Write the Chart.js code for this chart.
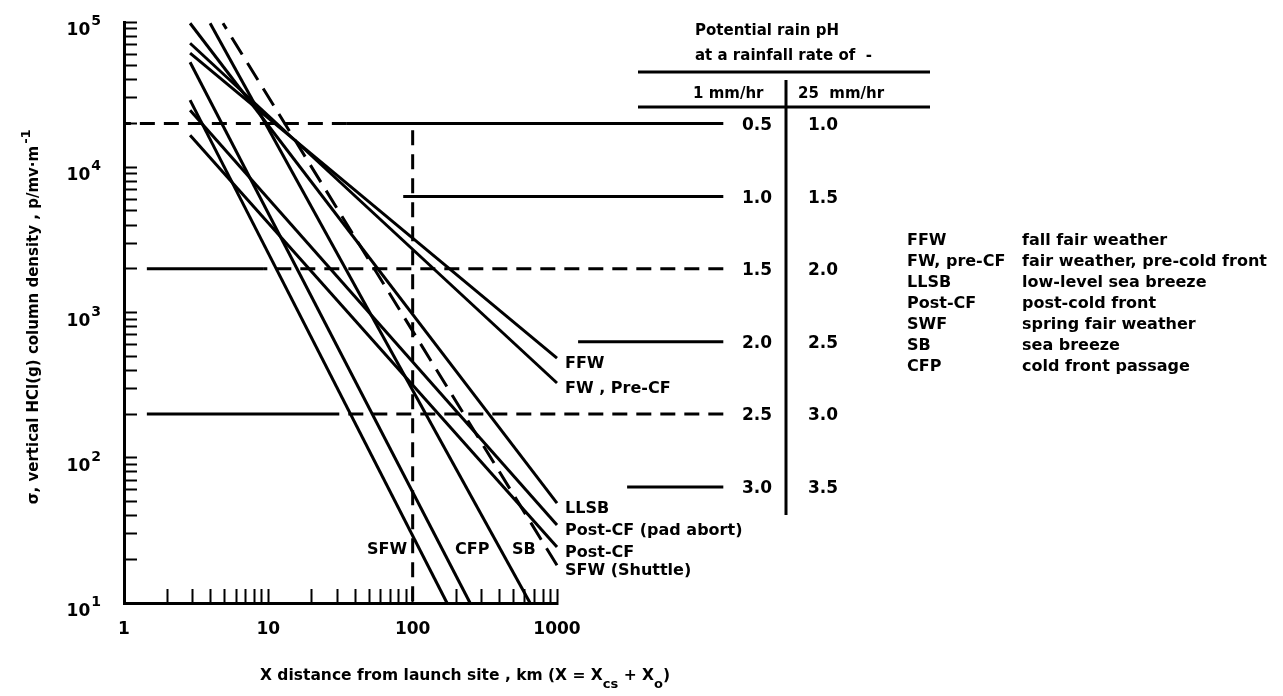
<!DOCTYPE html>
<html>
<head>
<meta charset="utf-8">
<script src="https://cdn.jsdelivr.net/npm/chart.js@4.4.1/dist/chart.umd.min.js"></script>
<style>
  html, body { margin: 0; padding: 0; background: #fff; }
  #wrap { width: 1283px; height: 696px; position: relative; }
</style>
</head>
<body>
<div id="wrap"><canvas id="graphe"></canvas></div>
<script>
// Curves : straight lines on log-log paper (start / end points)
var curveNames  = ['FFW', 'FW , Pre-CF', 'LLSB', 'Post-CF (pad abort)', 'Post-CF', 'SFW (Shuttle)', 'SB', 'CFP', 'SFW'];
var curveStartX = [2.87, 2.87, 2.87, 2.87, 2.87, 4.85, 3.95, 2.87, 2.87];
var curveStartY = [61000, 71400, 98000, 24700, 16600, 98000, 98000, 52800, 29000];
var curveEndX   = [1000, 1000, 1000, 1000, 1000, 1000, 651, 250, 173];
var curveEndY   = [485, 327, 48.7, 34.4, 24.3, 18.2, 10, 10, 10];
var curveDashed = [false, false, false, false, false, true, false, false, false];

// Column density levels and the matching potential rain pH
var levelValues = [20000, 6300, 2000, 630, 200, 63];
var ph1mm  = ['0.5', '1.0', '1.5', '2.0', '2.5', '3.0'];
var ph25mm = ['1.0', '1.5', '2.0', '2.5', '3.0', '3.5'];

// Level lines : solid parts and dashed parts (x from / x to)
var solidY  = [20000, 6300, 2000, 630, 200, 63];
var solidX0 = [35, 86, 1.44, 1400, 1.44, 3060];
var solidX1 = [14200, 14200, 9.2, 14200, 31, 14200];
var dashY  = [20000, 2000, 200];
var dashX0 = [1, 9.2, 31];
var dashX1 = [35, 14200, 14200];
// vertical dashed line at X = 100 km
var vertX = 100;
var vertY = [18000, 10];

// Axes
var xTicks = [1,2,3,4,5,6,7,8,9,10,20,30,40,50,60,70,80,90,100,200,300,400,500,600,700,800,900,1000];
var xLabels = {1: '1', 10: '10', 100: '100', 1000: '1000'};
var yTicks = [10,20,30,40,50,60,70,80,90,100,200,300,400,500,600,700,800,900,
              1000,2000,3000,4000,5000,6000,7000,8000,9000,
              10000,20000,30000,40000,50000,60000,70000,80000,90000,100000];
var yLabelValues = [10, 100, 1000, 10000, 100000];
var yLabelExp    = ['1', '2', '3', '4', '5'];

// Legend (right side)
var legendCodes = ['FFW', 'FW, pre-CF', 'LLSB', 'Post-CF', 'SWF', 'SB', 'CFP'];
var legendText  = ['fall fair weather', 'fair weather, pre-cold front', 'low-level sea breeze',
                   'post-cold front', 'spring fair weather', 'sea breeze', 'cold front passage'];

const FONT = 'DejaVu Sans';
const DASH = [15, 9];

var datasets = [];
// NB: points are given with x decreasing, so that the parts beyond X=1000 are not cut
for (var i = 0; i < curveNames.length; i++) {
  datasets.push({
    label: curveNames[i],
    data: [{x: curveEndX[i], y: curveEndY[i]}, {x: curveStartX[i], y: curveStartY[i]}],
    borderDash: curveDashed[i] ? [20, 10] : []
  });
}
for (var i = 0; i < solidY.length; i++) {
  datasets.push({label: 'level ' + solidY[i],
    data: [{x: solidX1[i], y: solidY[i]}, {x: solidX0[i], y: solidY[i]}], borderDash: []});
}
for (var i = 0; i < dashY.length; i++) {
  datasets.push({label: 'level dashed ' + dashY[i],
    data: [{x: dashX1[i], y: dashY[i]}, {x: dashX0[i], y: dashY[i]}], borderDash: DASH});
}
datasets.push({label: 'X = 100', data: [{x: vertX, y: vertY[0]}, {x: vertX, y: vertY[1]}], borderDash: DASH});

datasets.forEach(function (d) {
  d.showLine = true;
  d.borderColor = '#000';
  d.borderWidth = 3;
  d.pointRadius = 0;
  d.pointHoverRadius = 0;
  d.clip = false;
  d.borderCapStyle = 'butt';
});

var annotations = {
  id: 'annotations',
  afterDraw: function (chart) {
    var ctx = chart.ctx, xs = chart.scales.x, ys = chart.scales.y;
    ctx.save();
    ctx.fillStyle = '#000';
    ctx.strokeStyle = '#000';

    // y tick labels 10^n
    ctx.textBaseline = 'alphabetic';
    ctx.textAlign = 'right';
    for (var i = 0; i < yLabelValues.length; i++) {
      var ty = ys.getPixelForValue(yLabelValues[i]);
      ctx.font = 'bold 14px ' + FONT;
      ctx.fillText(yLabelExp[i], 101, ty + 3);
      var ew = ctx.measureText(yLabelExp[i]).width;
      ctx.font = 'bold 17px ' + FONT;
      ctx.fillText('10', 100 - ew, ty + 13);
    }

    ctx.textBaseline = 'middle';
    // curve labels on the right end
    ctx.font = 'bold 16px ' + FONT;
    ctx.textAlign = 'left';
    for (var i = 0; i < 6; i++) {
      ctx.fillText(curveNames[i], xs.getPixelForValue(curveEndX[i]) + 8, ys.getPixelForValue(curveEndY[i]) + 6);
    }
    // curve labels at the bottom
    var yb = ys.getPixelForValue(10) - 53;
    ctx.textAlign = 'right';
    ctx.fillText('SFW', xs.getPixelForValue(curveEndX[8]) - 40, yb);
    ctx.textAlign = 'left';
    ctx.fillText('CFP', xs.getPixelForValue(curveEndX[7]) - 15, yb);
    ctx.fillText('SB', xs.getPixelForValue(curveEndX[6]) - 18, yb);

    // pH table
    ctx.lineWidth = 3;
    ctx.beginPath();
    ctx.moveTo(638, 72); ctx.lineTo(930, 72);
    ctx.moveTo(638, 107); ctx.lineTo(930, 107);
    ctx.moveTo(786, 80); ctx.lineTo(786, 515);
    ctx.stroke();
    ctx.font = 'bold 15px ' + FONT;
    ctx.textAlign = 'left';
    ctx.fillText('Potential rain pH', 695, 31);
    ctx.fillText('at a rainfall rate of  -', 695, 56);
    ctx.fillText('1 mm/hr', 693, 94);
    ctx.fillText('25  mm/hr', 798, 94);
    ctx.font = 'bold 17px ' + FONT;
    for (var i = 0; i < levelValues.length; i++) {
      var py = ys.getPixelForValue(levelValues[i]) + 2;
      ctx.textAlign = 'right';
      ctx.fillText(ph1mm[i], 772, py);
      ctx.textAlign = 'left';
      ctx.fillText(ph25mm[i], 808, py);
    }

    // legend
    ctx.font = 'bold 16px ' + FONT;
    ctx.textAlign = 'left';
    for (var i = 0; i < legendCodes.length; i++) {
      ctx.fillText(legendCodes[i], 907, 241 + i * 21);
      ctx.fillText(legendText[i], 1022, 241 + i * 21);
    }

    // x axis title
    ctx.textBaseline = 'alphabetic';
    var x = 260, y = 680;
    var parts = [['X distance from launch site , km (X = X', 0], ['cs', 1], [' + X', 0], ['o', 1], [')', 0]];
    parts.forEach(function (p) {
      ctx.font = 'bold ' + (p[1] ? 13 : 15.5) + 'px ' + FONT;
      ctx.fillText(p[0], x, y + (p[1] ? 8 : 0));
      x += ctx.measureText(p[0]).width;
    });

    // y axis title
    ctx.save();
    ctx.translate(38, 317);
    ctx.rotate(-Math.PI / 2);
    ctx.font = 'bold 15px ' + FONT;
    var t = '\u03c3, vertical HCl(g) column density , p/mv\u00b7m';
    var w = ctx.measureText(t).width;
    ctx.fillText(t, -w / 2 - 8, 0);
    ctx.font = 'bold 13px ' + FONT;
    ctx.fillText('-1', w / 2 - 6, -8);
    ctx.restore();

    ctx.restore();
  }
};

var ctx2 = document.getElementById('graphe');
var graphe = new Chart(ctx2, {
  type: 'scatter',
  data: {datasets: datasets},
  plugins: [annotations],
  options: {
    responsive: true,
    maintainAspectRatio: false,
    animation: false,
    events: [],
    layout: {padding: {top: 22, right: 726, left: 0, bottom: 0}},
    plugins: {legend: {display: false}, tooltip: {enabled: false}},
    scales: {
      x: {
        type: 'logarithmic', min: 1, max: 1000, position: 'bottom',
        afterBuildTicks: function (s) { s.ticks = xTicks.map(function (v) { return {value: v}; }); },
        afterFit: function (s) { s.height = 93; s.paddingLeft = 0; s.paddingRight = 0; },
        border: {display: true, color: '#000', width: 3},
        grid: {display: true, drawOnChartArea: false, drawTicks: true, tickLength: -14, tickWidth: 2, tickColor: '#000'},
        ticks: {
          autoSkip: false, maxRotation: 0, padding: 30, color: '#000',
          font: {family: FONT, weight: 'bold', size: 17},
          callback: function (v) { return xLabels[v] || ''; }
        }
      },
      y: {
        type: 'logarithmic', min: 10, max: 100000, position: 'left',
        afterBuildTicks: function (s) { s.ticks = yTicks.map(function (v) { return {value: v}; }); },
        afterFit: function (s) { s.width = 124; s.paddingTop = 0; s.paddingBottom = 0; },
        border: {display: true, color: '#000', width: 3},
        grid: {display: true, drawOnChartArea: false, drawTicks: true, tickLength: -13, tickWidth: 2, tickColor: '#000'},
        ticks: {display: false}
      }
    }
  }
});
</script>
</body>
</html>
